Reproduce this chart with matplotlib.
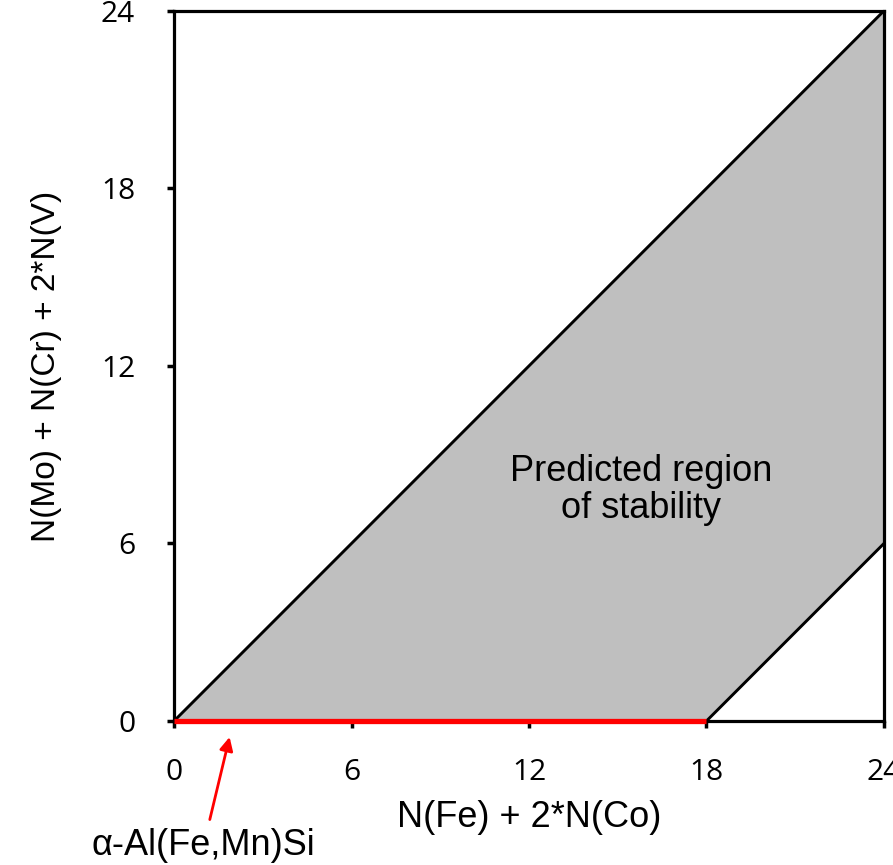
import matplotlib
matplotlib.use("Agg")
import matplotlib.pyplot as plt

# region boundaries (data units)
upper_x = [0, 24]
upper_y = [0, 24]
lower_x = [18, 24]
lower_y = [0, 6]
red_x = [0, 18]
red_y = [0, 0]
ticks = [0, 6, 12, 18, 24]

fig = plt.figure(figsize=(8.93, 8.65), dpi=100)
ax = fig.add_axes([0.1949, 0.1665, 0.795, 0.821])

# shaded region
poly_x = upper_x + lower_x[::-1]
poly_y = upper_y + lower_y[::-1]
ax.fill(poly_x, poly_y, color="#bfbfbf", zorder=1)
ax.plot(upper_x, upper_y, color="black", lw=2.1, zorder=2)
ax.plot(lower_x, lower_y, color="black", lw=2.1, zorder=2)
ax.plot(red_x, red_y, color="red", lw=3.8, zorder=3, solid_capstyle="butt", clip_on=False)

ax.set_xlim(0, 24)
ax.set_ylim(0, 24)
ax.set_xticks(ticks)
ax.set_yticks(ticks)
ax.set_xticklabels([str(t) for t in ticks], fontsize=21.5, family="Open Sans")
ax.set_yticklabels([str(t) for t in ticks], fontsize=21.5, family="Open Sans")
ax.tick_params(axis="x", length=5, width=2.5, direction="out", pad=22)
ax.tick_params(axis="y", length=5, width=2.5, direction="out", pad=23)
for s in ax.spines.values():
    s.set_linewidth(2.3)

ax.set_xlabel("N(Fe) + 2*N(Co)", fontsize=26, family="Liberation Sans", labelpad=9)
ax.set_ylabel("N(Mo) + N(Cr) + 2*N(V)", fontsize=24, family="Liberation Sans", labelpad=28)

ax.text(15.8, 7.8, "Predicted region\nof stability", fontsize=26, family="Liberation Sans",
        ha="center", va="center", linespacing=1.05)

ax.annotate("α-Al(Fe,Mn)Si", xy=(1.9, -0.45), xytext=(1.0, -4.2),
            fontsize=26, family="Liberation Sans", ha="center", va="center",
            annotation_clip=False,
            arrowprops=dict(arrowstyle="-|>", color="red", lw=2, mutation_scale=20,
                            shrinkA=4))

fig.savefig("out.png", dpi=100)
